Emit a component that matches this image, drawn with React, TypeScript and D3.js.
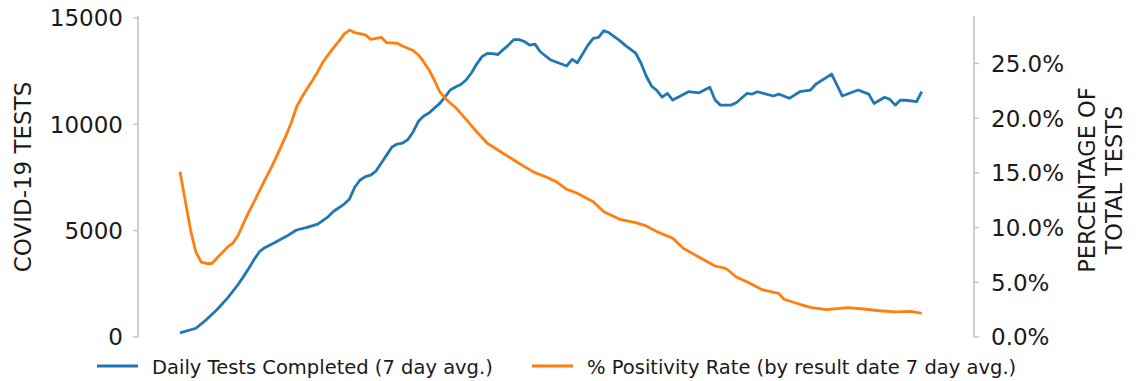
import React from "react";
import * as d3 from "d3";

// Daily Tests Completed (7 day avg.) — day index, value
const testDays = [0, 3, 5, 7, 9, 11, 12, 13, 14, 15, 16, 18, 20, 22, 24, 26, 28, 29, 31, 32, 33, 34, 35, 36, 37, 38, 39, 40, 41, 42, 43, 44, 45, 46, 47, 48, 49, 50, 51, 52, 53, 54, 55, 56, 57, 58, 59, 60, 61, 62, 63, 64, 65, 66, 67, 68, 70, 73, 74, 75, 77, 78, 79, 80, 81, 83, 84, 86, 87, 88, 89, 90, 91, 92, 93, 96, 98, 100, 101, 102, 104, 105, 107, 108, 109, 112, 113, 115, 117, 119, 120, 123, 125, 128, 130, 131, 133, 134, 135, 136, 137, 139, 140];
const testValues = [190, 410, 820, 1290, 1840, 2480, 2850, 3230, 3650, 4010, 4200, 4450, 4720, 5030, 5150, 5310, 5660, 5910, 6250, 6490, 7050, 7380, 7540, 7610, 7800, 8180, 8550, 8930, 9070, 9110, 9280, 9640, 10140, 10390, 10530, 10760, 10970, 11280, 11610, 11750, 11870, 12080, 12410, 12830, 13180, 13330, 13320, 13280, 13510, 13720, 13980, 13980, 13890, 13720, 13770, 13410, 13020, 12740, 13050, 12890, 13720, 14040, 14090, 14400, 14300, 13930, 13720, 13350, 12880, 12270, 11800, 11590, 11280, 11450, 11140, 11530, 11480, 11740, 11140, 10900, 10900, 11010, 11450, 11420, 11530, 11330, 11420, 11220, 11530, 11610, 11880, 12360, 11330, 11610, 11420, 10980, 11270, 11170, 10900, 11140, 11130, 11060, 11530];

// % Positivity Rate (by result date 7 day avg.) — day index, percent
const posDays = [0, 2, 3, 4, 5, 6, 8, 9, 10, 11, 12, 13, 14, 15, 16, 17, 18, 19, 20, 21, 22, 23, 24, 25, 26, 27, 28, 29, 30, 31, 32, 33, 35, 36, 38, 39, 41, 42, 44, 45, 46, 47, 48, 49, 50, 51, 52, 54, 56, 58, 60, 63, 65, 67, 69, 71, 73, 75, 78, 80, 83, 86, 88, 90, 93, 95, 98, 101, 103, 105, 107, 110, 113, 114, 117, 119, 122, 126, 129, 132, 135, 138, 140];
const posValues = [15.11, 9.75, 7.76, 6.84, 6.72, 6.72, 7.73, 8.23, 8.59, 9.32, 10.42, 11.43, 12.38, 13.35, 14.34, 15.27, 16.26, 17.33, 18.41, 19.58, 21.02, 21.91, 22.72, 23.45, 24.25, 25.14, 25.81, 26.45, 27.04, 27.7, 28.06, 27.82, 27.61, 27.21, 27.39, 26.9, 26.85, 26.6, 26.19, 25.78, 25.14, 24.41, 23.49, 22.42, 21.85, 21.39, 20.99, 19.89, 18.76, 17.71, 17.09, 16.18, 15.57, 15.02, 14.65, 14.2, 13.5, 13.14, 12.37, 11.45, 10.76, 10.45, 10.15, 9.63, 9.02, 8.11, 7.29, 6.49, 6.28, 5.48, 5.05, 4.3, 3.99, 3.45, 2.99, 2.71, 2.51, 2.68, 2.56, 2.4, 2.29, 2.35, 2.17];

const leftTicks = [0, 5000, 10000, 15000];
const rightTicks = [0, 5, 10, 15, 20, 25];

const seriesNames = ["Daily Tests Completed (7 day avg.)", "% Positivity Rate (by result date 7 day avg.)"];
const leftLabel = "COVID-19 TESTS";
const rightLabelLines = ["PERCENTAGE OF", "TOTAL TESTS"];

const BLUE = "#1f77b4";
const ORANGE = "#ff7f0e";
const SPINE = "#c4c4c4";
const TEXT = "#1a1a1a";
const FONT = "DejaVu Sans, sans-serif";

export default function App() {
  const W = 1139, H = 381;
  const leftX = 138, rightX = 974;
  const top = 16, bottom = 337;

  const x = d3.scaleLinear().domain([0, 140]).range([180, 921.7]);
  const yL = d3.scaleLinear().domain([0, 15090]).range([bottom, top]);
  const yR = d3.scaleLinear().domain([0, 29.34]).range([bottom, top]);

  const testPts = testDays.map((d, i) => [d, testValues[i]] as [number, number]);
  const posPts = posDays.map((d, i) => [d, posValues[i]] as [number, number]);

  const lineL = d3.line<[number, number]>().x(d => x(d[0])).y(d => yL(d[1]));
  const lineR = d3.line<[number, number]>().x(d => x(d[0])).y(d => yR(d[1]));

  const tickFs = 23;
  const capHalf = tickFs * 0.729 / 2;
  const fmtPct = (v: number) => v.toFixed(1) + "%";

  return (
    <svg width={W} height={H} style={{ position: "absolute", left: 0, top: 0, background: "#fff" }} fontFamily={FONT}>
      <rect x={0} y={0} width={W} height={H} fill="#fff" />
      {/* spines */}
      <line x1={leftX} x2={leftX} y1={top} y2={bottom} stroke={SPINE} strokeWidth={1.6} />
      <line x1={rightX} x2={rightX} y1={top} y2={bottom} stroke={SPINE} strokeWidth={1.6} />
      {leftTicks.map(t => (
        <g key={"l" + t}>
          <line x1={leftX - 5} x2={leftX} y1={yL(t)} y2={yL(t)} stroke={SPINE} strokeWidth={1.4} />
          <text x={123} y={yL(t) + capHalf} textAnchor="end" fontSize={tickFs} fill={TEXT}>{t}</text>
        </g>
      ))}
      {rightTicks.map(t => (
        <g key={"r" + t}>
          <line x1={rightX} x2={rightX + 5} y1={yR(t)} y2={yR(t)} stroke={SPINE} strokeWidth={1.4} />
          <text x={991} y={yR(t) + capHalf} textAnchor="start" fontSize={tickFs} fill={TEXT}>{fmtPct(t)}</text>
        </g>
      ))}
      {/* axis labels */}
      <text transform={`translate(${23 + capHalf},177) rotate(-90)`} textAnchor="middle" fontSize={23} fill={TEXT}>{leftLabel}</text>
      {rightLabelLines.map((s, i) => (
        <text key={s} transform={`translate(${1087 + i * 27 + capHalf},180) rotate(-90)`} textAnchor="middle" fontSize={22.5} fill={TEXT}>{s}</text>
      ))}
      {/* series */}
      <path d={lineL(testPts) || ""} fill="none" stroke={BLUE} strokeWidth={2.8} strokeLinejoin="round" strokeLinecap="butt" />
      <path d={lineR(posPts) || ""} fill="none" stroke={ORANGE} strokeWidth={2.8} strokeLinejoin="round" strokeLinecap="butt" />
      {/* legend */}
      <line x1={97} x2={138} y1={366} y2={366} stroke={BLUE} strokeWidth={3} />
      <text x={152} y={373.5} fontSize={19.5} fill={TEXT}>{seriesNames[0]}</text>
      <line x1={532} x2={573} y1={366} y2={366} stroke={ORANGE} strokeWidth={3} />
      <text x={587} y={373.5} fontSize={19.5} fill={TEXT}>{seriesNames[1]}</text>
    </svg>
  );
}
